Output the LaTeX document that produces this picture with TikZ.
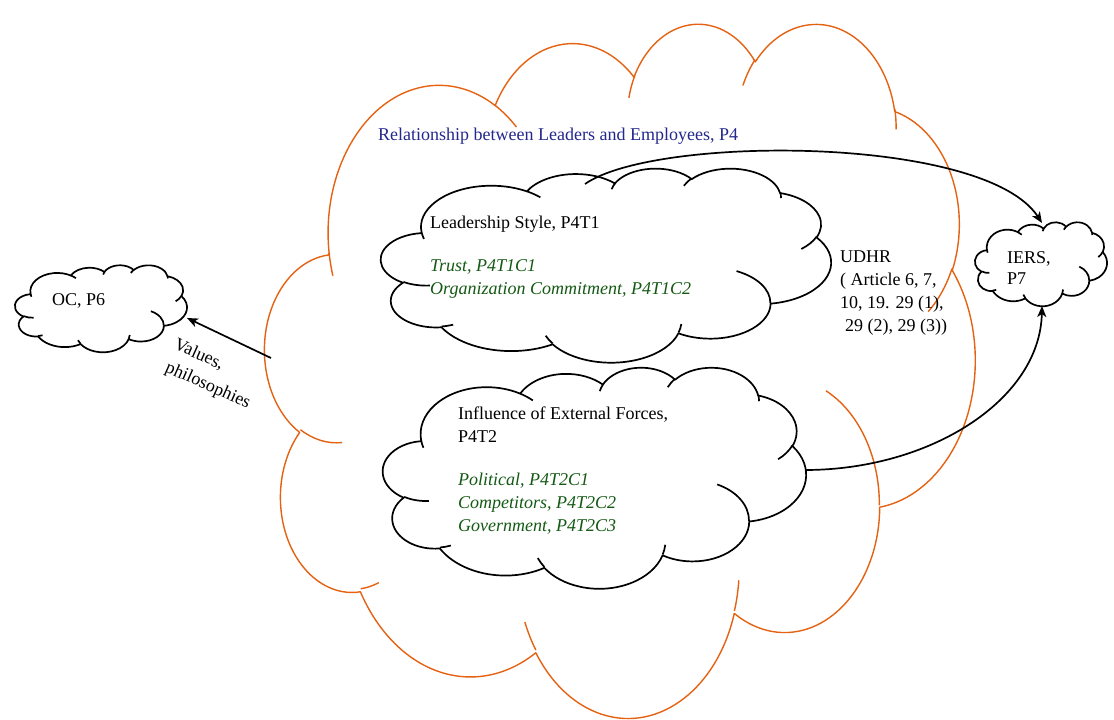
\documentclass[tikz,border=0pt]{standalone}
\usepackage{fontspec}
\setmainfont{Liberation Serif}
\usetikzlibrary{arrows.meta}
\definecolor{cloudorange}{RGB}{228,98,18}
\definecolor{titleblue}{RGB}{35,40,140}
\definecolor{itemgreen}{RGB}{20,90,20}

% One elliptic arc of the cloud outline, given in a 43.2 x 43.2 frame:
% #1,#2 = radii, #3 = start angle, #4 = sweep (angles measured on screen, y down)
\newcommand\cloudarc[4]{arc[start angle={-atan2((#1)*sin(#3),(#2)*cos(#3))},
  delta angle={-mod(atan2((#1)*sin((#3)+(#4)),(#2)*cos((#3)+(#4)))-atan2((#1)*sin(#3),(#2)*cos(#3))+720,360)},
  x radius={(#1)/43.2*\cloudw*1pt}, y radius={(#2)/43.2*\cloudh*1pt}]}
% a point of the 43.2 x 43.2 frame placed in the current cloud box
\newcommand\cpt[2]{({\cloudx+(#1)/43.2*\cloudw},{\cloudy+(#2)/43.2*\cloudh})}

% #1 = style, #2,#3 = top-left corner, #4 = width, #5 = height
\newcommand\wordcloud[5]{%
  \def\cloudx{#2}\def\cloudy{#3}\def\cloudw{#4}\def\cloudh{#5}%
  \draw[#1] \cpt{3.9}{14.37}
    \cloudarc{6.753}{9.19}{-190.4875}{123.7805}
    \cloudarc{5.333}{7.267}{-144.1024}{89.9452}
    \cloudarc{4.365}{5.945}{-145.8079}{99.7230}
    \cloudarc{4.857}{6.595}{-130.9861}{117.2417}
    \cloudarc{5.333}{7.273}{-78.7089}{109.0269}
    \cloudarc{6.775}{9.22}{-46.2673}{130.2690}
    \cloudarc{5.785}{7.867}{0.6250}{114.0333}
    \cloudarc{6.752}{9.215}{22.4516}{115.1726}
    \cloudarc{7.72}{10.543}{66.2426}{75.7110}
    \cloudarc{4.36}{5.918}{-274.9421}{146.7356}
    \cloudarc{4.345}{5.945}{-246.8285}{152.5189} -- cycle;
  \draw[#1, fill=none]
    \cpt{4.693}{26.177} \cloudarc{4.345}{5.945}{86.7420}{26.4295}
    \cpt{6.928}{34.899} \cloudarc{4.36}{5.918}{73.6105}{11.4475}
    \cpt{16.478}{39.09} \cloudarc{6.752}{9.215}{137.6242}{14.0811}
    \cpt{28.827}{34.751} \cloudarc{6.752}{9.215}{6.4533}{15.9984}
    \cpt{34.129}{22.954} \cloudarc{5.785}{7.867}{-70.2924}{70.9174}
    \cpt{41.798}{15.354} \cloudarc{5.333}{7.273}{30.3180}{27.7515}
    \cpt{38.324}{5.426} \cloudarc{4.857}{6.595}{-13.7443}{14.8589}
    \cpt{29.078}{3.952} \cloudarc{4.857}{6.595}{-149.1815}{18.1954}
    \cpt{22.141}{4.72} \cloudarc{4.365}{5.945}{-163.4943}{17.6864}
    \cpt{14.0}{5.192} \cloudarc{6.753}{9.19}{-66.7070}{12.3194}
    \cpt{4.127}{15.789} \cloudarc{6.753}{9.19}{157.6544}{11.8582};
}

\tikzset{
  themecloud/.style={draw=cloudorange, line width=1.4pt, line join=round},
  subcloud/.style={draw=black, fill=white, line width=1.7pt, line join=round},
  txt/.style={anchor=base west, inner sep=0pt, align=left, font=\fontsize{18}{23}\selectfont},
  edgetxt/.style={rotate=-24, anchor=base, inner sep=0pt, font=\fontsize{18}{22}\selectfont},
  link/.style={draw=black, line width=1.7pt, -{Stealth[length=11pt,width=9pt,inset=3pt]}},
}

\begin{document}
\begin{tikzpicture}[x=1pt,y=-1pt]
\useasboundingbox (0,0) rectangle (1114,720);

% theme cloud and its sub-theme clouds
\wordcloud{themecloud}{265}{22}{710}{694}
\wordcloud{subcloud}{381}{168}{450}{194}
\wordcloud{subcloud}{383}{367}{423}{221}
% neighbouring clouds
\wordcloud{subcloud}{15}{265}{172}{87}
\wordcloud{subcloud}{975}{222}{132}{84}

% connector ends on the cloud outlines
\coordinate (ls-top) at (585,184);
\coordinate (ief-right) at (805,470);
\coordinate (rel-left) at (271,358);
\coordinate (oc-right) at (187,318);
\coordinate (iers-top) at (1042,223);
\coordinate (iers-bottom) at (1042,306);

% texts (base = baseline of the last line)
\node[txt, text=titleblue] (reltxt) at (378,140) {Relationship between Leaders and Employees, P4};
\node[txt] (lstxt) at (430,228) {Leadership Style, P4T1};
\node[txt, text=itemgreen] (lsitems) at (430,294) {\itshape Trust, P4T1C1\\ \itshape Organization Commitment, P4T1C2};
\node[txt] (ieftxt) at (458,442) {Influence of External Forces,\\P4T2};
\node[txt, text=itemgreen] (iefitems) at (458,531) {\itshape Political, P4T2C1\\ \itshape Competitors, P4T2C2\\ \itshape Government, P4T2C3};
\node[txt] (udhr) at (840,331) {UDHR\\( Article 6, 7,\\10, 19. 29 (1),\\\hspace*{5pt}29 (2), 29 (3))};
\node[txt] (octxt) at (52,305) {OC, P6};
\node[txt, font=\fontsize{18}{21}\selectfont] (ierstxt) at (1007,284) {IERS,\\P7};
\node[edgetxt] (vp1) at (197,359) {Values,};
\node[edgetxt] (vp2) at (206,390) {philosophies};

% connectors
\draw[link] (ls-top) .. controls (655,135) and (985,135) .. (iers-top);
\draw[link] (ief-right) .. controls (930,470) and (1040,400) .. (iers-bottom);
\draw[link] (rel-left) -- (oc-right);
\end{tikzpicture}
\end{document}
